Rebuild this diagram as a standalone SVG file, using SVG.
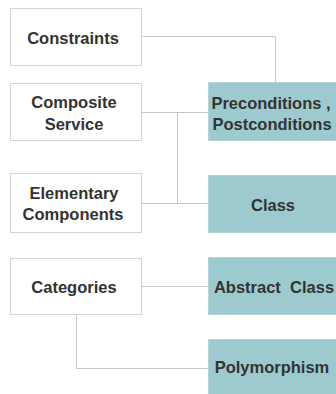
<svg xmlns="http://www.w3.org/2000/svg" width="336" height="394" viewBox="0 0 336 394">
<style>
.l{fill:#fff;stroke:#d4d4d4;stroke-width:1}
.r{fill:#9dcacf;stroke:#b8d3d6;stroke-width:1}
text{font-family:"Liberation Sans",Arial,sans-serif;font-weight:bold;font-size:16.5px;fill:#333;text-anchor:middle}
.c{fill:none;stroke:#c8c8c8;stroke-width:1}
</style>
<rect width="336" height="394" fill="#fff"/>
<g id="connectors">
<polyline class="c" points="142.5,36.5 275.5,36.5 275.5,82"/>
<polyline class="c" points="142,112.5 208,112.5"/>
<polyline class="c" points="177.5,112.5 177.5,203.5"/>
<polyline class="c" points="142,203.5 208,203.5"/>
<polyline class="c" points="142,286.5 208,286.5"/>
<polyline class="c" points="76.5,314 76.5,368.5 208,368.5"/>
</g>
<g id="constraints"><rect class="l" x="10.5" y="8.5" width="131" height="57"/><text x="73" y="44">Constraints</text></g>
<g id="composite"><rect class="l" x="10.5" y="83.5" width="131" height="57"/><text x="74" y="108">Composite</text><text x="74" y="130">Service</text></g>
<g id="elementary"><rect class="l" x="10.5" y="173.5" width="131" height="59"/><text x="74" y="199">Elementary</text><text x="73" y="220">Components</text></g>
<g id="categories"><rect class="l" x="10.5" y="258.5" width="131" height="56"/><text x="74" y="293">Categories</text></g>
<g id="preconditions"><rect class="r" x="208.5" y="82.5" width="130" height="58"/><text x="271" y="109">Preconditions ,</text><text x="272" y="130">Postconditions</text></g>
<g id="class"><rect class="r" x="208.5" y="175.5" width="130" height="57"/><text x="273" y="211">Class</text></g>
<g id="abstract"><rect class="r" x="208.5" y="257.5" width="130" height="57"/><text x="274" y="293" xml:space="preserve">Abstract  Class</text></g>
<g id="polymorphism"><rect class="r" x="208.5" y="339.5" width="130" height="60"/><text x="272" y="373">Polymorphism</text></g>
</svg>
